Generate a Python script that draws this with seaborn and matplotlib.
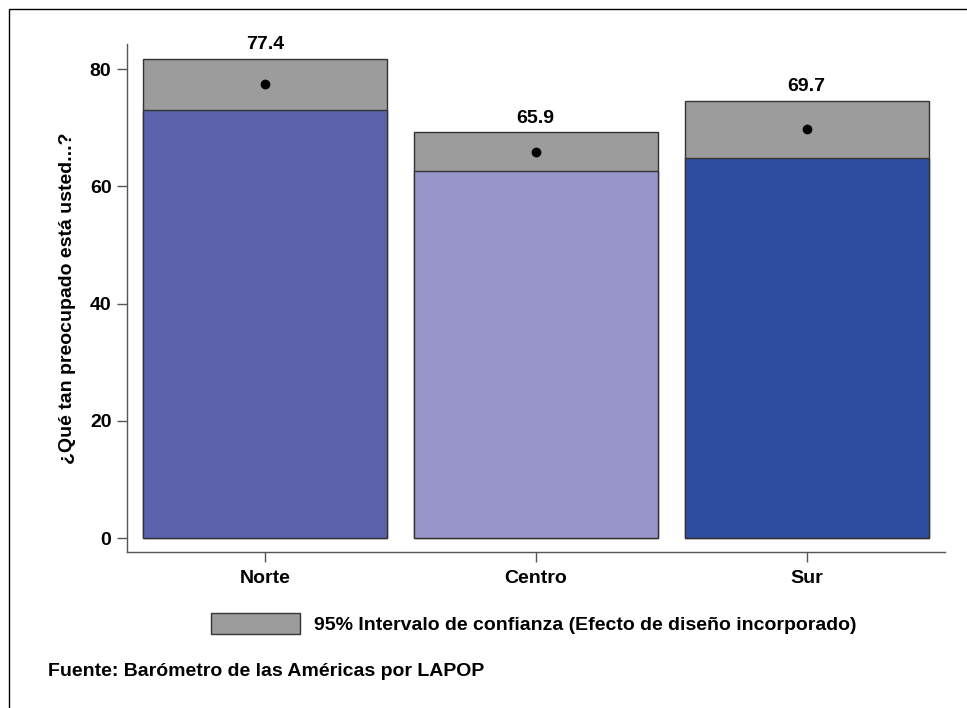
import matplotlib
matplotlib.use("Agg")
import matplotlib.pyplot as plt
import matplotlib.patches as mpatches
import seaborn as sns

regions = ["Norte", "Centro", "Sur"]
means = [77.4, 65.9, 69.7]
ci_low = [73.0, 62.7, 64.9]
ci_high = [81.8, 69.2, 74.6]
bar_colors = ["#5b62ab", "#9794c8", "#2f4d9e"]
ci_color = "#9c9c9c"

sns.set_theme(style="white")
plt.rcParams["font.family"] = ["Liberation Sans", "DejaVu Sans"]
plt.rcParams["font.weight"] = "bold"
plt.rcParams["text.color"] = "black"
plt.rcParams["axes.labelcolor"] = "black"
plt.rcParams["xtick.color"] = "black"
plt.rcParams["ytick.color"] = "black"

fig = plt.figure(figsize=(9.67, 7.08), dpi=100)
ax = fig.add_axes([0.131, 0.220, 0.846, 0.718])

# gray confidence band drawn as full-height bar, coloured bar on top up to lower CI
sns.barplot(x=regions, y=ci_high, color=ci_color, width=0.9, edgecolor="#333333",
            linewidth=1, ax=ax, errorbar=None, saturation=1)
sns.barplot(x=regions, y=ci_low, hue=regions, palette=bar_colors, width=0.9,
            edgecolor="#333333", linewidth=1, ax=ax, errorbar=None, legend=False,
            saturation=1)
sns.pointplot(x=regions, y=means, color="black", linestyle="none", markers="o",
              markersize=5, ax=ax, errorbar=None)

for i, (m, hi) in enumerate(zip(means, ci_high)):
    ax.text(i, hi + 0.9, f"{m:.1f}", ha="center", va="bottom", fontsize=14,
            fontweight="bold", color="black")

ax.set_xlim(-0.51, 2.51)
ax.set_ylim(-2.4, 84.3)
ax.set_yticks([0, 20, 40, 60, 80])
ax.set_ylabel("¿Qué tan preocupado está usted...?", fontsize=14, fontweight="bold",
              labelpad=10)
ax.set_xlabel("")
sns.despine(ax=ax, top=True, right=True)
for s in ["left", "bottom"]:
    ax.spines[s].set_color("#555555")
    ax.spines[s].set_linewidth(1)
ax.tick_params(axis="both", which="major", direction="out", length=7, width=1,
               color="#555555", labelsize=14, pad=4, left=True, bottom=True,
               labelcolor="black")
ax.tick_params(axis="x", pad=6)
for lab in ax.get_xticklabels() + ax.get_yticklabels():
    lab.set_fontweight("bold")

# legend for the confidence band
patch = mpatches.Patch(facecolor=ci_color, edgecolor="#333333", linewidth=1,
                       label="95% Intervalo de confianza (Efecto de diseño incorporado)")
fig.legend(handles=[patch], loc="center left", bbox_to_anchor=(0.218, 0.119),
           frameon=False, handlelength=4.6, handleheight=1.24, borderpad=0,
           borderaxespad=0, handletextpad=0.72,
           prop={"weight": "bold", "size": 14})

fig.text(0.050, 0.052, "Fuente: Barómetro de las Américas por LAPOP", fontsize=14,
         fontweight="bold", va="center", ha="left")

# outer frame
fig.patches.append(mpatches.Rectangle((0.0093, -0.02), 1.2, 1.007, transform=fig.transFigure,
                                      fill=False, edgecolor="black", linewidth=1))

fig.savefig("out.png", dpi=100)
